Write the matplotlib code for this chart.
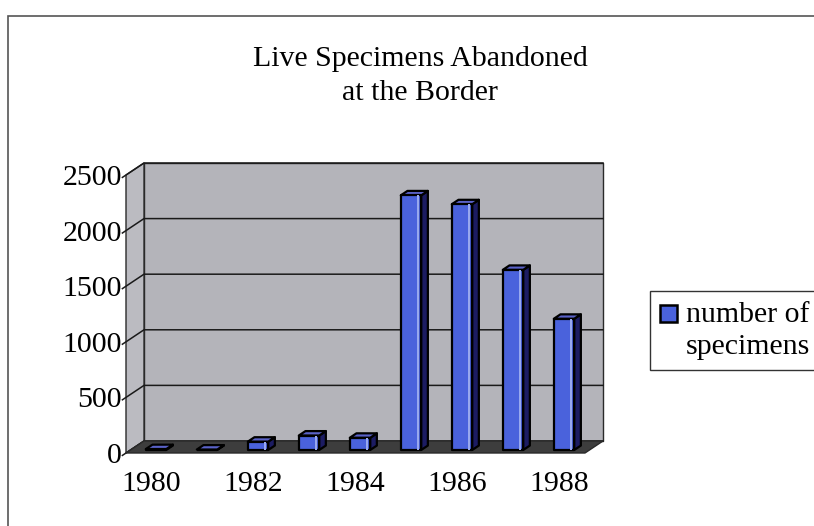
# live_specimens.py

import matplotlib.pyplot as plt
from matplotlib.patches import Polygon, Rectangle

# Specimens abandoned at the border, per year
years = [1980, 1981, 1982, 1983, 1984, 1985, 1986, 1987, 1988]
specimens = [8, 4, 75, 130, 110, 2290, 2210, 1620, 1180]
year_ticks = [1980, 1982, 1984, 1986, 1988]
value_ticks = [0, 500, 1000, 1500, 2000, 2500]

plt.rcParams["font.family"] = ["Liberation Serif", "DejaVu Serif"]
FS = 21.5

W, H = 814, 526
fig = plt.figure(figsize=(W / 100, H / 100), dpi=100)
fig.patch.set_facecolor("white")

# axes covers the front plane of the 3-D box
ax = fig.add_axes([126 / W, 1 - 453 / H, (585 - 126) / W, (453 - 175) / H])
ax.set_xlim(-0.5, len(years) - 0.5)
ax.set_ylim(0, 2500)
ax.patch.set_visible(False)
for s in ax.spines.values():
    s.set_visible(False)

# depth of the box, in data units (about 18 px right, 12 px up)
DX = 0.353
DY = 108


def p(x, y, f):
    # point at depth f (0 = front, 1 = back wall)
    return (x + f * DX, y + f * DY)


def face(pts, color, z, edge="black", lw=1.6):
    ax.add_patch(Polygon(pts, closed=True, facecolor=color, edgecolor=edge,
                         lw=lw, zorder=z, clip_on=False, joinstyle="round"))


x0, x1 = -0.5, len(years) - 0.5
top = value_ticks[-1]

# walls and floor
face([p(x0, 0, 1), p(x1, 0, 1), p(x1, top, 1), p(x0, top, 1)], "#b4b4ba", 1,
     edge="#2a2a2a", lw=1.0)
face([p(x0, 0, 0), p(x0, 0, 1), p(x0, top, 1), p(x0, top, 0)], "#bbbbc1", 1,
     edge="#2a2a2a", lw=1.0)

# gridlines on the back wall and side wall, with small outward ticks
for v in value_ticks:
    a, b, c = p(x0, v, -0.2), p(x0, v, 1), p(x1, v, 1)
    ax.plot([a[0], b[0], c[0]], [a[1], b[1], c[1]], color="#1a1a1a", lw=1.1,
            zorder=2, clip_on=False)

face([p(x0, 0, 0), p(x1, 0, 0), p(x1, 0, 1), p(x0, 0, 1)], "#3d3d3d", 3,
     edge="#2a2a2a", lw=1.0)

# 3-D bars
w = 0.4
f0, f1 = 0.25, 0.62
for i, v in enumerate(specimens):
    xl, xr = i - w / 2, i + w / 2
    face([p(xr, 0, f0), p(xr, 0, f1), p(xr, v, f1), p(xr, v, f0)], "#1c1c62", 4)
    face([p(xl, v, f0), p(xr, v, f0), p(xr, v, f1), p(xl, v, f1)], "#5a62c8", 4)
    face([p(xl, 0, f0), p(xr, 0, f0), p(xr, v, f0), p(xl, v, f0)], "#4a62dc", 5)
    # light highlight near the right edge of the front face
    if v > 30:
        ax.add_patch(Rectangle(p(xr - 0.08, 0, f0), 0.045, v,
                               facecolor="#98a8ee", edgecolor="none",
                               zorder=6, clip_on=False))

# tick labels
ax.set_xticks([years.index(y) for y in year_ticks])
ax.set_xticklabels([str(y) for y in year_ticks])
ax.set_yticks(value_ticks)
ax.set_yticklabels([str(v) for v in value_ticks])
ax.tick_params(axis="both", length=0, labelsize=FS, colors="black")
ax.tick_params(axis="x", pad=13)
ax.tick_params(axis="y", pad=3)

# title
fig.text(420 / W, 1 - 76 / H, "Live Specimens Abandoned\nat the Border",
         ha="center", va="center", fontsize=FS, linespacing=1.45)

# legend box
fig.add_artist(Rectangle((650 / W, 1 - 370 / H), 200 / W, 79 / H,
                         transform=fig.transFigure, facecolor="white",
                         edgecolor="#333333", lw=1.0))
fig.add_artist(Rectangle((660 / W, 1 - 322 / H), 17 / W, 17 / H,
                         transform=fig.transFigure, facecolor="#4a62dc",
                         edgecolor="black", lw=1.8))
fig.text(686 / W, 1 - 331 / H, "number of\nspecimens", ha="left", va="center",
         fontsize=FS, linespacing=1.3)

# outer chart frame
fig.add_artist(Rectangle((8 / W, -0.1), 1.2, 1.1 - 16 / H,
                         transform=fig.transFigure, fill=False,
                         edgecolor="#555555", lw=1.2))

fig.savefig("out.png", dpi=100)
